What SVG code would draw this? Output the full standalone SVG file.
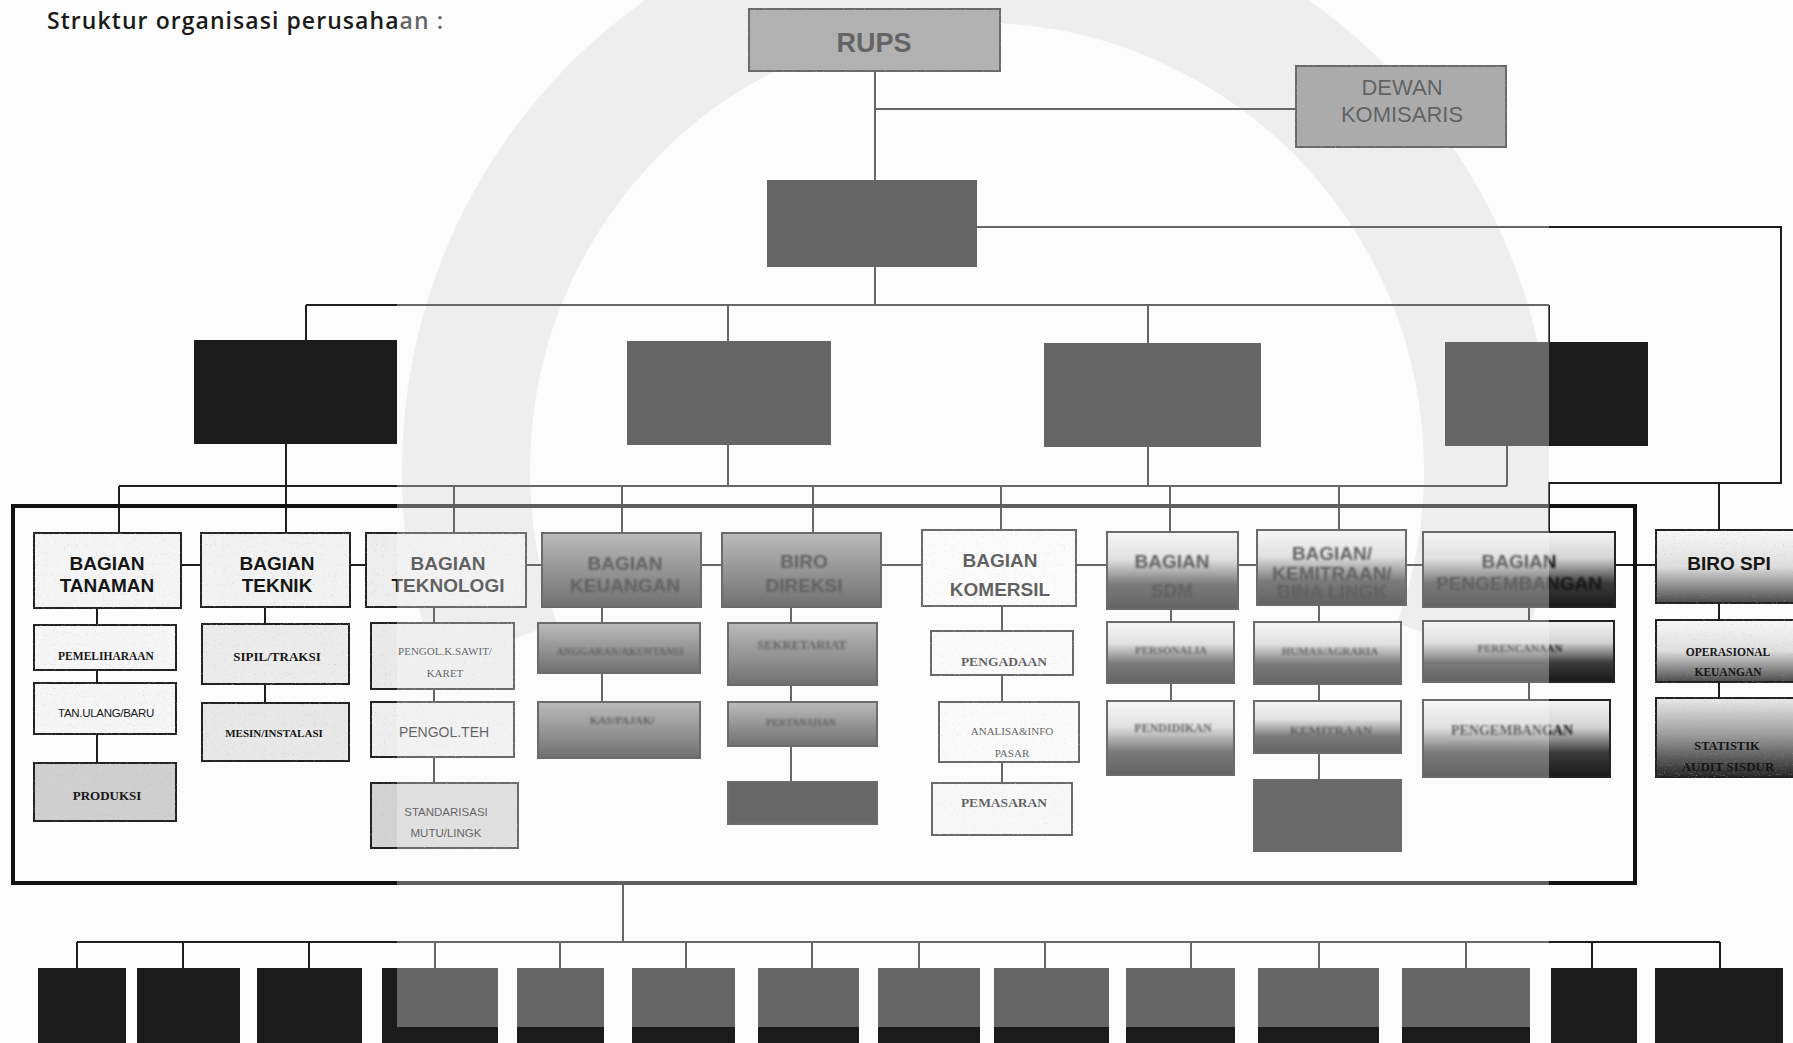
<svg xmlns="http://www.w3.org/2000/svg" width="1793" height="1043" viewBox="0 0 1793 1043">
<style>
.ln{stroke:#1e1e1e;stroke-width:2;fill:none}
.bx{stroke:#242424;stroke-width:2}
.blk{fill:#1b1b1b}
.hd{font-family:"Liberation Sans",Arial,sans-serif;font-weight:bold;font-size:19px;text-anchor:middle;fill:#161616}
.sr{font-family:"Liberation Serif","Times New Roman",serif;font-weight:bold;text-anchor:middle;fill:#161616}
.srn{font-family:"Liberation Serif","Times New Roman",serif;text-anchor:middle;fill:#161616}
.ss{font-family:"Liberation Sans",Arial,sans-serif;text-anchor:middle;fill:#161616}
.bl{filter:url(#blur)}
.gr{filter:url(#grain)}
</style>
<defs>
<linearGradient id="gPer" x1="0" y1="0" x2="0" y2="1"><stop offset="0" stop-color="#9c9c9c"/><stop offset="1" stop-color="#2c2c2c"/></linearGradient>
<linearGradient id="gSdm" x1="0" y1="0" x2="0" y2="1"><stop offset="0" stop-color="#f4f4f4"/><stop offset="0.35" stop-color="#d4d4d4"/><stop offset="0.68" stop-color="#3c3c3c"/><stop offset="1" stop-color="#181818"/></linearGradient>
<linearGradient id="gSpi" x1="0" y1="0" x2="0" y2="1"><stop offset="0" stop-color="#f8f8f8"/><stop offset="0.5" stop-color="#dedede"/><stop offset="1" stop-color="#4a4a4a"/></linearGradient>
<linearGradient id="gSpi2" x1="0" y1="0" x2="0" y2="1"><stop offset="0" stop-color="#eaeaea"/><stop offset="0.45" stop-color="#a0a0a0"/><stop offset="1" stop-color="#262626"/></linearGradient>
<filter id="blur"><feGaussianBlur stdDeviation="1.1"/></filter>
<filter id="grain">
<feTurbulence type="fractalNoise" baseFrequency="0.9" numOctaves="1" seed="7" result="n"/>
<feColorMatrix in="n" type="matrix" values="0 0 0 0 0.35  0 0 0 0 0.35  0 0 0 0 0.35  -2.6 0 0 0 0.95" result="d"/>
<feComposite in="d" in2="SourceGraphic" operator="in" result="d2"/>
<feMerge><feMergeNode in="SourceGraphic"/><feMergeNode in="d2"/></feMerge>
</filter>
<clipPath id="wmClip"><rect x="397" y="0" width="1152" height="1027"/></clipPath>
</defs>

<rect width="1793" height="1043" fill="#fcfcfc"/>

<g id="watermark-logo" clip-path="url(#wmClip)">
<path d="M497,645 A511,511 0 1 1 1457,645" fill="none" stroke="#e8e8e8" stroke-width="128"/>
</g>

<text x="47" y="29" font-family="'Open Sans','Liberation Sans',Arial,sans-serif" font-weight="600" font-size="23" fill="#1a1a1a" textLength="396" lengthAdjust="spacing">Struktur organisasi perusahaan :</text>

<g id="connectors">
<path class="ln" d="M875,71 V180 M875,267 V305 M875,109 H1296"/>
<path class="ln" d="M977,227 H1781 V483 H1549 V532 M1719,483 V530"/>
<path class="ln" d="M306,305 H1549 M306,305 V340 M728,305 V341 M1148,305 V343 M1549,305 V342"/>
<path class="ln" d="M286,444 V533 M728,445 V486 M1148,447 V486 M1507,446 V486 M119,486 H1507"/>
<path class="ln" d="M119,486 V533 M454,486 V533 M622,486 V533 M813,486 V533 M1001,486 V530 M1170,486 V532 M1339,486 V530"/>
<path class="ln" d="M181,565 H1656"/>
<path class="ln" d="M97,608 V763 M265,607 V703 M434,607 V783 M602,607 V702 M791,607 V782 M1002,606 V783 M1171,609 V701 M1319,605 V780 M1529,607 V700 M1719,603 V698"/>
<path class="ln" d="M623,883 V942 M77,942 H1720"/>
<path class="ln" d="M77,942 V968 M183,942 V968 M309,942 V968 M435,942 V968 M560,942 V968 M686,942 V968 M812,942 V968 M919,942 V968 M1045,942 V968 M1191,942 V968 M1319,942 V968 M1466,942 V968 M1592,942 V968 M1720,942 V968"/>
</g>

<g id="frame"><rect x="13" y="506" width="1622" height="377" fill="none" stroke="#121212" stroke-width="4"/></g>

<g id="rups">
<rect class="bx gr" x="749" y="9" width="251" height="62" fill="#8c8c8c"/>
<text x="874" y="52" font-family="'Liberation Sans',Arial,sans-serif" font-weight="bold" font-size="27" text-anchor="middle" fill="#1a1a1a">RUPS</text>
</g>
<g id="dewan-komisaris">
<rect class="bx gr" x="1296" y="66" width="210" height="81" fill="#848484"/>
<text class="ss" x="1402" y="95" font-size="22" fill="#2a2a2a">DEWAN</text>
<text class="ss" x="1402" y="122" font-size="22" fill="#2a2a2a">KOMISARIS</text>
</g>
<g id="direktur-utama"><rect class="blk" x="767" y="180" width="210" height="87"/></g>
<g id="direktur-1"><rect class="blk" x="194" y="340" width="203" height="104"/></g>
<g id="direktur-2"><rect class="blk" x="627" y="341" width="204" height="104"/></g>
<g id="direktur-3"><rect class="blk" x="1044" y="343" width="217" height="104"/></g>
<g id="direktur-4"><rect class="blk" x="1445" y="342" width="203" height="104"/></g>

<g id="bagian-tanaman">
<rect class="bx gr" x="34" y="533" width="147" height="75" fill="#f4f4f4"/>
<text class="hd" x="107" y="570">BAGIAN</text><text class="hd" x="107" y="592">TANAMAN</text>
<rect class="bx gr" x="34" y="625" width="142" height="45" fill="#f6f6f6"/>
<text class="sr" x="106" y="660" font-size="11.5">PEMELIHARAAN</text>
<rect class="bx gr" x="34" y="683" width="142" height="51" fill="#f6f6f6"/>
<text class="ss" x="106" y="717" font-size="11.5" letter-spacing="-0.3">TAN.ULANG/BARU</text>
<rect class="bx gr" x="34" y="763" width="142" height="58" fill="#cfcfcf"/>
<text class="sr" x="107" y="800" font-size="13">PRODUKSI</text>
</g>

<g id="bagian-teknik">
<rect class="bx gr" x="201" y="533" width="149" height="74" fill="#f2f2f2"/>
<text class="hd" x="277" y="570">BAGIAN</text><text class="hd" x="277" y="592">TEKNIK</text>
<rect class="bx gr" x="202" y="624" width="147" height="60" fill="#ebebeb"/>
<text class="sr" x="277" y="661" font-size="13">SIPIL/TRAKSI</text>
<rect class="bx gr" x="202" y="703" width="147" height="58" fill="#e8e8e8"/>
<text class="sr" x="274" y="737" font-size="11">MESIN/INSTALASI</text>
</g>

<g id="bagian-teknologi">
<rect class="bx gr" x="366" y="533" width="160" height="74" fill="#eeeeee"/>
<text class="hd" x="448" y="570">BAGIAN</text><text class="hd" x="448" y="592">TEKNOLOGI</text>
<rect class="bx gr" x="371" y="623" width="143" height="66" fill="#eaeaea"/>
<text class="srn" x="445" y="655" font-size="11">PENGOL.K.SAWIT/</text>
<text class="srn" x="445" y="677" font-size="11">KARET</text>
<rect class="bx gr" x="371" y="702" width="143" height="55" fill="#eeeeee"/>
<text class="ss" x="444" y="737" font-size="14">PENGOL.TEH</text>
<rect class="bx gr" x="371" y="783" width="147" height="65" fill="#d3d3d3"/>
<text class="ss" x="446" y="816" font-size="11.5">STANDARISASI</text>
<text class="ss" x="446" y="837" font-size="11.5">MUTU/LINGK</text>
</g>

<g id="bagian-keuangan">
<rect class="bx" x="542" y="533" width="159" height="74" fill="url(#gPer)"/>
<text class="hd bl" x="625" y="570">BAGIAN</text><text class="hd bl" x="625" y="592">KEUANGAN</text>
<rect class="bx" x="538" y="623" width="162" height="50" fill="url(#gPer)"/>
<text class="sr bl" x="620" y="655" font-size="10.5">ANGGARAN/AKUNTANSI</text>
<rect class="bx" x="538" y="702" width="162" height="56" fill="url(#gPer)"/>
<text class="sr bl" x="622" y="724" font-size="11">KAS/PAJAK/</text>
</g>

<g id="biro-direksi">
<rect class="bx" x="722" y="533" width="159" height="74" fill="url(#gPer)"/>
<text class="hd bl" x="804" y="568">BIRO</text><text class="hd bl" x="804" y="592">DIREKSI</text>
<rect class="bx" x="728" y="623" width="149" height="62" fill="url(#gPer)"/>
<text class="sr bl" x="802" y="649" font-size="12.5">SEKRETARIAT</text>
<rect class="bx" x="728" y="702" width="149" height="44" fill="url(#gPer)"/>
<text class="sr bl" x="801" y="726" font-size="10">PERTANAHAN</text>
<rect class="bx" x="728" y="782" width="149" height="42" fill="#1f1f1f"/>
</g>

<g id="bagian-komersil">
<rect class="bx gr" x="922" y="530" width="154" height="76" fill="#fbfbfb"/>
<text class="hd" x="1000" y="567">BAGIAN</text><text class="hd" x="1000" y="596">KOMERSIL</text>
<rect class="bx gr" x="931" y="631" width="142" height="44" fill="#f9f9f9"/>
<text class="sr" x="1004" y="666" font-size="13.5">PENGADAAN</text>
<rect class="bx gr" x="939" y="702" width="140" height="60" fill="#f9f9f9"/>
<text class="srn" x="1012" y="735" font-size="11">ANALISA&amp;INFO</text>
<text class="srn" x="1012" y="757" font-size="11">PASAR</text>
<rect class="bx gr" x="932" y="783" width="140" height="52" fill="#f7f7f7"/>
<text class="sr" x="1004" y="807" font-size="13.5">PEMASARAN</text>
</g>

<g id="bagian-sdm">
<rect class="bx" x="1107" y="532" width="131" height="77" fill="url(#gSdm)"/>
<text class="hd bl" x="1172" y="568">BAGIAN</text><text class="hd bl" x="1172" y="597">SDM</text>
<rect class="bx" x="1107" y="622" width="127" height="61" fill="url(#gSdm)"/>
<text class="sr bl" x="1171" y="654" font-size="11">PERSONALIA</text>
<rect class="bx" x="1107" y="701" width="127" height="74" fill="url(#gSdm)"/>
<text class="sr bl" x="1173" y="732" font-size="12">PENDIDIKAN</text>
</g>

<g id="bagian-kemitraan">
<rect class="bx" x="1257" y="530" width="149" height="75" fill="url(#gSdm)"/>
<text class="hd bl" x="1332" y="560" font-size="17">BAGIAN/</text>
<text class="hd bl" x="1332" y="580" font-size="16">KEMITRAAN/</text>
<text class="hd bl" x="1332" y="598" font-size="12">BINA LINGK</text>
<rect class="bx" x="1254" y="622" width="147" height="62" fill="url(#gSdm)"/>
<text class="sr bl" x="1330" y="655" font-size="11">HUMAS/AGRARIA</text>
<rect class="bx" x="1254" y="701" width="147" height="52" fill="url(#gSdm)"/>
<text class="sr bl" x="1331" y="735" font-size="13">KEMITRAAN</text>
<rect class="bx" x="1254" y="780" width="147" height="71" fill="#222"/>
</g>

<g id="bagian-pengembangan">
<rect class="bx" x="1423" y="532" width="192" height="75" fill="url(#gSdm)"/>
<text class="hd bl" x="1519" y="568" font-size="15">BAGIAN</text>
<text class="hd bl" x="1519" y="590" font-size="15">PENGEMBANGAN</text>
<rect class="bx" x="1423" y="621" width="191" height="61" fill="url(#gSdm)"/>
<text class="sr bl" x="1520" y="652" font-size="11">PERENCANAAN</text>
<rect class="bx" x="1423" y="700" width="187" height="77" fill="url(#gSdm)"/>
<text class="sr bl" x="1512" y="735" font-size="14">PENGEMBANGAN</text>
</g>

<g id="biro-spi">
<rect class="bx gr" x="1656" y="530" width="140" height="73" fill="url(#gSpi)"/>
<text class="hd" x="1729" y="570">BIRO SPI</text>
<rect class="bx gr" x="1656" y="620" width="140" height="62" fill="url(#gSpi)"/>
<text class="sr" x="1728" y="656" font-size="11.5">OPERASIONAL</text>
<text class="sr" x="1728" y="676" font-size="11.5">KEUANGAN</text>
<rect class="bx gr" x="1656" y="698" width="140" height="79" fill="url(#gSpi2)"/>
<text class="sr" x="1727" y="750" font-size="12.5">STATISTIK</text>
<text class="sr" x="1728" y="771" font-size="13">AUDIT  SISDUR</text>
</g>

<g id="unit-row">
<rect class="blk" x="38" y="968" width="88" height="80"/>
<rect class="blk" x="137" y="968" width="103" height="80"/>
<rect class="blk" x="257" y="968" width="105" height="80"/>
<rect class="blk" x="382" y="968" width="116" height="80"/>
<rect class="blk" x="517" y="968" width="87" height="80"/>
<rect class="blk" x="632" y="968" width="103" height="80"/>
<rect class="blk" x="758" y="968" width="101" height="80"/>
<rect class="blk" x="878" y="968" width="102" height="80"/>
<rect class="blk" x="994" y="968" width="115" height="80"/>
<rect class="blk" x="1126" y="968" width="109" height="80"/>
<rect class="blk" x="1258" y="968" width="121" height="80"/>
<rect class="blk" x="1402" y="968" width="128" height="80"/>
<rect class="blk" x="1551" y="968" width="86" height="80"/>
<rect class="blk" x="1655" y="968" width="128" height="80"/>
</g>

<rect id="watermark-overlay" x="397" y="0" width="1152" height="1027" fill="#fbfbff" opacity="0.33"/>
</svg>
